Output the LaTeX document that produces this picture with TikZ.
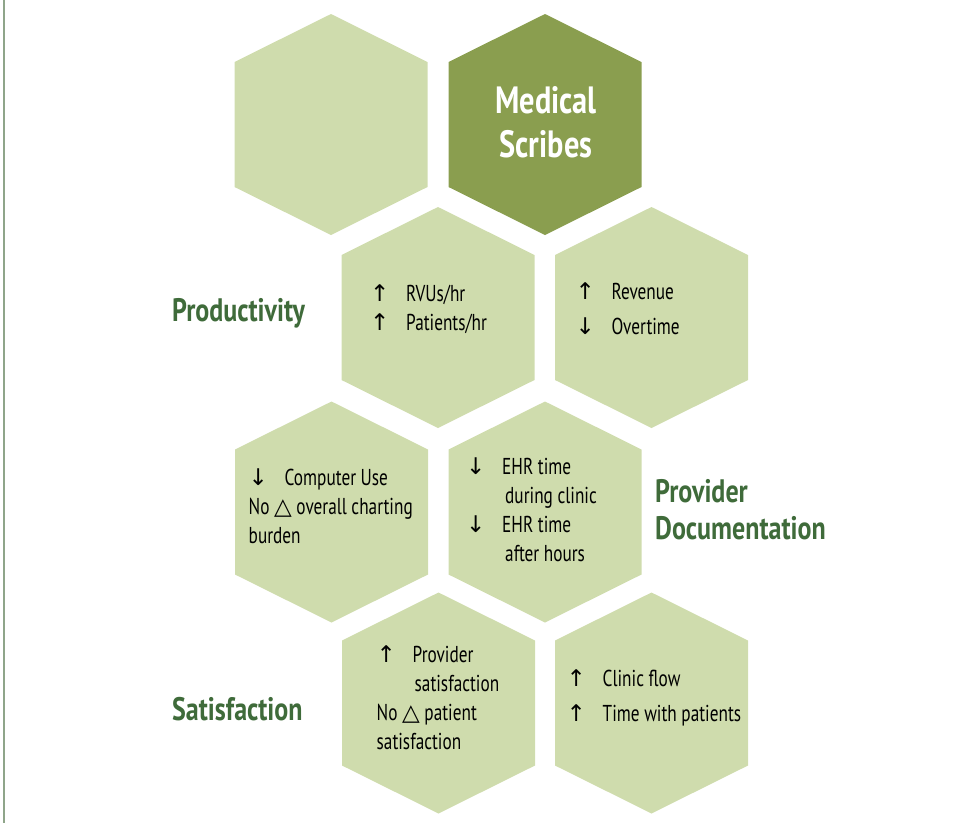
\documentclass[tikz,border=0pt]{standalone}
\usepackage{fontspec}
\setmainfont{PT Sans}[FakeStretch=0.8]
\newfontfamily\bodyfont{PT Sans}[FakeStretch=0.75]
\newfontfamily\symfont{DejaVu Sans}
\usetikzlibrary{calc}
\definecolor{cellgreen}{HTML}{CFDCAD}
\definecolor{scribegreen}{HTML}{8A9E4F}
\definecolor{headgreen}{HTML}{3F6B3A}
\definecolor{framegreen}{HTML}{8FA58A}
\newcommand{\upar}{\makebox[36pt][l]{\symfont\char"2191}}
\newcommand{\dnar}{\makebox[36pt][l]{\symfont\char"2193}}
\newcommand{\nochange}{No {\symfont\char"25B3}}
\newcommand{\hexcell}[4]{%
  \fill[#4] (#2,#3) ++(0,-110.5) -- ++(96.5,48) -- ++(0,125)
    -- ++(-96.5,48) -- ++(-96.5,-48) -- ++(0,-125) -- cycle;
  \coordinate (#1) at (#2,#3);}

\begin{document}
\begin{tikzpicture}[x=1pt,y=-1pt,
    lines/.style={anchor=west,align=left,inner sep=0pt,
      font=\bodyfont\fontsize{23}{29}\selectfont},
    heading/.style={anchor=west,align=left,inner sep=0pt,text=headgreen,
      font=\bfseries\fontsize{32.5}{37}\selectfont}]
  \useasboundingbox (0,0) rectangle (956,823);
  \draw[framegreen,line width=1.5pt] (4,0) -- (4,823);

  \hexcell{blank}{331}{124.5}{cellgreen}
  \hexcell{scribes}{545}{124.5}{scribegreen}
  \hexcell{rvu}{438}{317.5}{cellgreen}
  \hexcell{revenue}{651.5}{317.5}{cellgreen}
  \hexcell{computer}{331.5}{512}{cellgreen}
  \hexcell{ehr}{545}{512}{cellgreen}
  \hexcell{satis}{438.5}{703}{cellgreen}
  \hexcell{flow}{651.5}{703}{cellgreen}

  \node[align=center,text=white,font=\bfseries\fontsize{38}{44}\selectfont]
    (scribetext) at ($(scribes)+(1,-2.5)$) {Medical\\Scribes};

  \node[heading] (productivity) at (172,313) {Productivity};
  \node[heading] (documentation) at (655,509.5) {Provider\\Documentation};
  \node[heading] (satisfaction) at (172,709) {Satisfaction};

  \node[lines] (rvutext) at ($(rvu)+(-68,-8)$)
    {\upar RVUs/hr\\ \upar Patients/hr};
  \node[lines,font=\bodyfont\fontsize{23}{35}\selectfont] (revenuetext)
    at ($(revenue)+(-76,-9)$) {\upar Revenue\\ \dnar Overtime};
  \node[lines] (computertext) at ($(computer)+(-83,-5.5)$)
    {\dnar Computer Use\\ \nochange{} overall charting\\burden};
  \node[lines] (ehrtext) at ($(ehr)+(-79,-2)$)
    {\dnar EHR time\\ \hspace*{39pt}during clinic\\
     \dnar EHR time\\ \hspace*{39pt}after hours};
  \node[lines] (satistext) at ($(satis)+(-62,-5)$)
    {\upar Provider\\ \hspace*{38pt}satisfaction\\
     \nochange{} patient\\satisfaction};
  \node[lines,font=\bodyfont\fontsize{23}{35}\selectfont] (flowtext)
    at ($(flow)+(-85,-5.5)$) {\upar Clinic flow\\ \upar Time with patients};
\end{tikzpicture}
\end{document}
